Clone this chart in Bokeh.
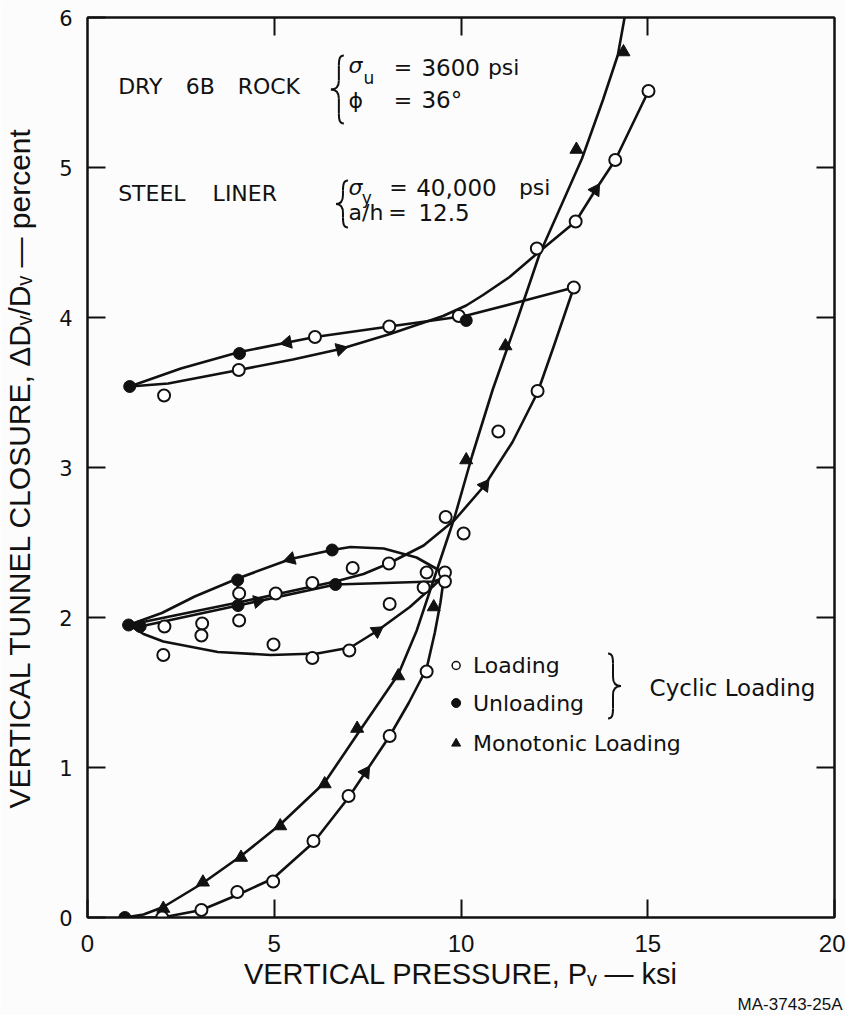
import math
import numpy as np
from bokeh.plotting import figure
from bokeh.models import LinearAxis, Label, FixedTicker, Title
from bokeh.embed import file_html
from bokeh.resources import INLINE

# ---------------- data ----------------
x_ticks = [0, 5, 10, 15, 20]
y_ticks = [0, 1, 2, 3, 4, 5, 6]

# Monotonic loading: hand-drawn curve and measured points (triangles)
mono_curve_x = [1.0, 1.5, 2.03, 3.09, 4.11, 5.16, 6.35, 7.22, 8.32, 8.81, 9.83, 10.3, 10.85, 11.5, 12.1, 12.6, 13.24, 13.8, 14.2, 14.38]
mono_curve_y = [0.0, 0.02, 0.07, 0.23, 0.41, 0.62, 0.90, 1.22, 1.62, 1.91, 2.67, 3.08, 3.52, 3.98, 4.42, 4.70, 5.06, 5.45, 5.75, 6.0]
mono_x = [2.03, 3.09, 4.11, 5.16, 6.35, 7.22, 8.32, 9.27, 10.14, 11.19, 13.09, 14.35]
mono_y = [0.06, 0.235, 0.40, 0.61, 0.89, 1.26, 1.61, 2.07, 3.05, 3.81, 5.12, 5.77]

# Cyclic loading paths (hand-drawn curves)
load1_x = [1.0, 2.0, 3.05, 4.01, 4.97, 6.05, 6.99, 8.09, 8.6, 9.08, 9.3, 9.45, 9.55]
load1_y = [0.0, 0.0, 0.05, 0.15, 0.26, 0.50, 0.80, 1.21, 1.43, 1.66, 1.90, 2.10, 2.28]
upper_arc_x = [1.10, 1.99, 2.87, 4.02, 5.44, 6.55, 7.04, 7.93, 8.81, 9.52]
upper_arc_y = [1.95, 2.03, 2.14, 2.26, 2.39, 2.45, 2.47, 2.46, 2.40, 2.30]
lower_arc_x = [1.10, 1.5, 2.03, 3.49, 4.91, 6.15, 7.04, 7.75, 8.63, 9.26, 9.55]
lower_arc_y = [1.95, 1.89, 1.84, 1.77, 1.75, 1.76, 1.80, 1.91, 2.07, 2.21, 2.28]
unload2_x = [1.41, 4.03, 6.64, 9.26, 9.5]
unload2_y = [1.94, 2.08, 2.22, 2.24, 2.26]
drop_x = [4.02, 4.03]
drop_y = [2.26, 2.08]
reload2_x = [1.10, 2.07, 4.03, 6.64, 7.39, 8.06, 9.0, 9.83, 10.63, 11.38, 12.05, 12.5, 13.02]
reload2_y = [1.95, 2.0, 2.10, 2.24, 2.29, 2.36, 2.48, 2.65, 2.88, 3.17, 3.50, 3.82, 4.2]
unload3_x = [1.13, 2.5, 4.07, 6.09, 8.08, 10.1, 11.5, 13.02]
unload3_y = [3.54, 3.66, 3.77, 3.87, 3.94, 4.01, 4.10, 4.2]
reload3_x = [1.13, 2.16, 4.05, 5.5, 6.77, 8.1, 9.52, 10.14, 10.59, 11.3, 12.1, 13.07, 13.6, 14.13, 15.02]
reload3_y = [3.54, 3.56, 3.65, 3.72, 3.79, 3.89, 4.01, 4.08, 4.15, 4.27, 4.44, 4.64, 4.85, 5.05, 5.51]

# Cyclic loading points: open = loading, filled = unloading
load_x = [2.0, 3.05, 4.01, 4.97, 6.05, 6.99, 8.09, 9.08,
          2.06, 2.03, 3.07, 3.05, 4.06, 4.06, 4.98, 5.04, 6.02, 6.02, 7.01, 7.1, 8.07, 8.09,
          9.08, 9.57, 9.0, 9.57, 9.59, 10.07, 11.0, 12.05, 13.02,
          2.05, 4.05, 6.09, 8.08, 9.94, 12.03, 13.07, 14.13, 15.02]
load_y = [0.0, 0.05, 0.17, 0.24, 0.51, 0.81, 1.21, 1.64,
          1.94, 1.75, 1.96, 1.88, 2.16, 1.98, 1.82, 2.16, 2.23, 1.73, 1.78, 2.33, 2.36, 2.09,
          2.30, 2.30, 2.20, 2.24, 2.67, 2.56, 3.24, 3.51, 4.20,
          3.48, 3.65, 3.87, 3.94, 4.01, 4.46, 4.64, 5.05, 5.51]
unload_x = [1.0, 1.10, 1.41, 4.02, 4.03, 6.55, 6.64, 1.13, 4.07, 10.14]
unload_y = [0.0, 1.95, 1.94, 2.25, 2.08, 2.45, 2.22, 3.54, 3.76, 3.98]

# direction arrows: (path, x position, +1 rightwards / -1 leftwards)
arrow_marks = [("load1", 7.44, 1), ("lower", 7.75, 1), ("upper", 5.44, -1), ("unload2", 4.56, 1),
               ("reload2", 10.63, 1), ("unload3", 5.35, -1), ("reload3", 6.77, 1), ("reload3", 13.6, 1)]

x_title = "VERTICAL PRESSURE, P\u1d65 \u2014 ksi"
y_title = "VERTICAL TUNNEL CLOSURE, \u0394D\u1d65/D\u1d65 \u2014 percent"
figure_id = "MA-3743-25A"

# ---------------- figure ----------------
W, H = 845, 1015
FL, FR, FT, FB = 82, 11, 17, 98
KX = (W - FL - FR) / 20.0
KY = (H - FT - FB) / 6.0
INK = "#111111"
TF = "Liberation Sans"

p = figure(width=W, height=H, x_range=(0, 20), y_range=(0, 6),
           output_backend="svg", toolbar_location=None,
           min_border_left=FL, min_border_right=FR, min_border_top=FT, min_border_bottom=FB)
p.background_fill_color = "#fcfcfc"
p.border_fill_color = "#fcfcfc"
p.grid.visible = False
p.outline_line_color = INK
p.outline_line_width = 2

def style_axis(ax, ticks, labels=True):
    ax.ticker = FixedTicker(ticks=ticks)
    ax.major_tick_in = 18
    ax.major_tick_out = 0
    ax.minor_tick_in = 0
    ax.minor_tick_out = 0
    ax.major_tick_line_width = 2
    ax.major_tick_line_color = INK
    ax.axis_line_width = 2
    ax.axis_line_color = INK
    if not labels:
        ax.major_label_text_color = None
        ax.major_label_text_font_size = "2px"
        ax.major_label_standoff = 0

xa = p.xaxis[0]
style_axis(xa, x_ticks)
xa.major_label_text_font = TF
xa.major_label_text_font_size = "24px"
xa.major_label_text_color = INK
xa.major_label_standoff = 17
xa.axis_label = x_title
xa.axis_label_text_font = TF
xa.axis_label_text_font_size = "29px"
xa.axis_label_text_font_style = "normal"
xa.axis_label_text_color = INK
xa.axis_label_standoff = 3

ya = p.yaxis[0]
style_axis(ya, y_ticks)
ya.major_label_text_font = "DejaVu Sans"
ya.major_label_text_font_size = "21px"
ya.major_label_text_color = INK
ya.major_label_standoff = 15
ya.axis_label = y_title
ya.axis_label_text_font = TF
ya.axis_label_text_font_size = "30px"
ya.axis_label_text_font_style = "normal"
ya.axis_label_text_color = INK
ya.axis_label_standoff = 20

top = LinearAxis()
style_axis(top, [5, 10, 15], labels=False)
p.add_layout(top, "above")
right = LinearAxis()
style_axis(right, [1, 2, 3, 4, 5], labels=False)
p.add_layout(right, "right")

p.add_layout(Title(text=figure_id, align="right", text_font=TF, text_font_size="17px",
                   text_font_style="normal", text_color=INK, standoff=0, offset=-8), "below")

paths = {
    "mono": (mono_curve_x, mono_curve_y),
    "load1": (load1_x, load1_y),
    "upper": (upper_arc_x, upper_arc_y),
    "lower": (lower_arc_x, lower_arc_y),
    "unload2": (unload2_x, unload2_y),
    "drop": (drop_x, drop_y),
    "reload2": (reload2_x, reload2_y),
    "unload3": (unload3_x, unload3_y),
    "reload3": (reload3_x, reload3_y),
}
for name, (xs, ys) in paths.items():
    p.line(xs, ys, line_color=INK, line_width=2.6, line_join="round", line_cap="round")

# arrowheads on the paths
ax_, ay_, aa_ = [], [], []
for name, xa_pos, d in arrow_marks:
    xs, ys = np.array(paths[name][0]), np.array(paths[name][1])
    ya_pos = float(np.interp(xa_pos, xs, ys))
    h = 0.2
    y1 = float(np.interp(xa_pos - h, xs, ys))
    y2 = float(np.interp(xa_pos + h, xs, ys))
    ang = math.atan2(d * (y2 - y1) * KY, d * 2 * h * KX)
    ax_.append(xa_pos); ay_.append(ya_pos); aa_.append(ang - math.pi / 2)
p.scatter(ax_, ay_, marker="triangle", size=13, angle=aa_, color=INK)

# data points
p.scatter(mono_x, mono_y, marker="triangle", size=13, color=INK)
p.scatter(load_x, load_y, marker="circle", size=12, fill_color="white", line_color=INK, line_width=2)
p.scatter(unload_x, unload_y, marker="circle", size=12, color=INK)

# braces
def brace(xb, yt, yb, tip_px, curl_px):
    s = 1 if tip_px > 0 else -1
    c = -s * curl_px
    ym = (yt + yb) / 2
    dx = lambda v: v / KX
    dy = lambda v: v / KY
    segs = []
    for sg in (1, -1):
        ye = yt if sg == 1 else yb
        segs.append((xb + dx(c), ye, xb, ye - sg * dy(10), xb + dx(c * 0.2), ye, xb, ye - sg * dy(3)))
        segs.append((xb, ye - sg * dy(10), xb, ym + sg * dy(9), xb, ye - sg * dy(12), xb, ym + sg * dy(11)))
        segs.append((xb, ym + sg * dy(9), xb + dx(tip_px), ym, xb, ym + sg * dy(3), xb + dx(tip_px * 0.4), ym))
    cols = list(zip(*segs))
    p.bezier(x0=list(cols[0]), y0=list(cols[1]), x1=list(cols[2]), y1=list(cols[3]),
             cx0=list(cols[4]), cy0=list(cols[5]), cx1=list(cols[6]), cy1=list(cols[7]),
             line_color=INK, line_width=2)

brace(6.73, 5.747, 5.293, -8, 5)
brace(6.84, 4.913, 4.60, -7, 5)
brace(14.07, 1.76, 1.327, 8, 5)

def add_text(text, x, y, size=22, font="DejaVu Sans", align="left", baseline="middle", style="normal"):
    p.add_layout(Label(x=x, y=y, text=text, text_font=font, text_font_size=f"{size}px",
                       text_align=align, text_baseline=baseline,
                       text_color=INK, text_font_style=style))

# material annotations
add_text("DRY", 0.82, 5.54)
add_text("6B", 2.63, 5.54)
add_text("ROCK", 4.02, 5.54)
add_text("σ", 6.99, 5.68, style="italic")
add_text("u", 7.39, 5.60, size=17)
add_text("=", 8.20, 5.67)
add_text("3600", 8.94, 5.67, size=23)
add_text("psi", 10.72, 5.67)
add_text("ϕ", 6.99, 5.45)
add_text("=", 8.20, 5.45)
add_text("36°", 8.94, 5.45, size=23)
add_text("STEEL", 0.82, 4.83)
add_text("LINER", 3.35, 4.83)
add_text("σ", 6.99, 4.87, style="italic")
add_text("y", 7.34, 4.80, size=17)
add_text("=", 8.08, 4.87)
add_text("40,000", 8.80, 4.87, size=23)
add_text("psi", 11.55, 4.87)
add_text("a/h", 6.99, 4.70)
add_text("=", 8.05, 4.70)
add_text("12.5", 8.86, 4.70, size=23)

# legend
p.scatter([9.87], [1.68], marker="circle", size=8, fill_color="white", line_color=INK, line_width=1.5)
p.scatter([9.87], [1.43], marker="circle", size=9, color=INK)
p.scatter([9.87], [1.16], marker="triangle", size=9, color=INK)
add_text("Loading", 10.32, 1.68)
add_text("Unloading", 10.32, 1.43)
add_text("Monotonic Loading", 10.32, 1.16)
add_text("Cyclic Loading", 15.05, 1.53, size=23)

open("out.html", "w").write(file_html(p, INLINE))
